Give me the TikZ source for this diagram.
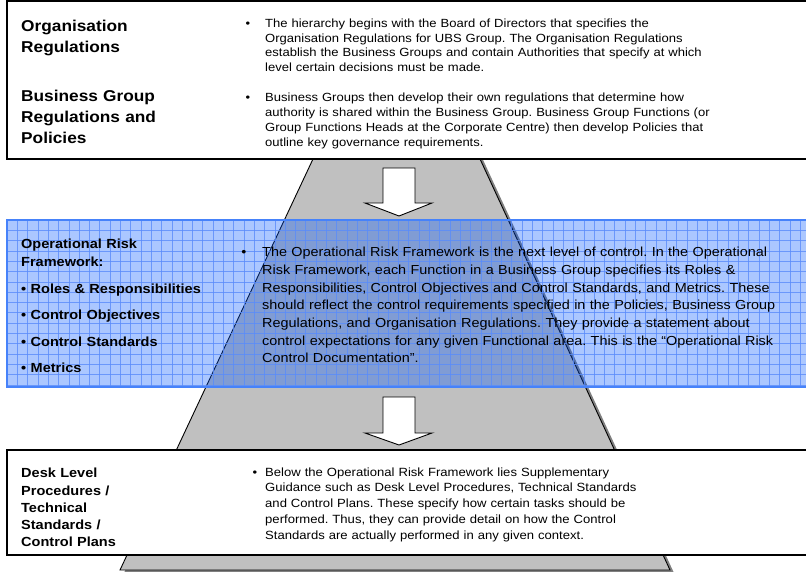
\documentclass[tikz,border=0pt]{standalone}
\usepackage{fontspec}
\setmainfont[FakeStretch=1.1]{Liberation Sans}
\setlength{\parindent}{0pt}
\frenchspacing
\definecolor{pyrfill}{RGB}{192,192,192}
\definecolor{pyrshade}{RGB}{128,128,128}
\definecolor{orfblue}{RGB}{0,85,255}
\definecolor{orfedge}{RGB}{70,130,250}
\definecolor{orfgrid}{RGB}{90,140,250}
\begin{document}
\begin{tikzpicture}[x=1pt,y=-1pt,
  panel/.style={draw=black, line width=1.2pt, fill=white},
  orfpanel/.style={fill=orfblue, fill opacity=0.33},
  gridline/.style={draw=orfgrid, line width=0.6pt, opacity=0.8},
  heading/.style={anchor=base west, inner sep=0pt, text width=220pt, align=left},
  body/.style={anchor=base west, inner sep=0pt, text width=#1, align=left},
  dot/.style={anchor=base, inner sep=0pt},
  blockarrow/.style={draw=black, line width=0.9pt, fill=white, line join=miter},
]
\useasboundingbox (0,0) rectangle (806,571);

% pyramid with its drop shadow
\coordinate (pyrTL) at (388.6,-2);
\coordinate (pyrTR) at (405.6,-2);
\coordinate (pyrBR) at (670,570);
\coordinate (pyrBL) at (120,570);
\fill[pyrshade] ([shift={(4,3)}]pyrTL) -- ([shift={(4,3)}]pyrTR)
  -- ([shift={(4,3)}]pyrBR) -- ([shift={(4,3)}]pyrBL) -- cycle;
\draw[fill=pyrfill, line width=0.9pt] (pyrTL) -- (pyrTR) -- (pyrBR) -- (pyrBL) -- cycle;

% upper panel: regulations and policies
\draw[panel] (7,1) rectangle (812,159);
% lower panel: supplementary guidance
\draw[panel] (7,450) rectangle (812,555);

% middle panel: operational risk framework (translucent, gridded)
\fill[orfpanel] (7,220) rectangle (812,387);
\begin{scope}
  \clip (7,220) rectangle (812,387);
  \foreach \i in {0,...,78}
    \draw[gridline] (7+\i*10.3,220) -- ++(0,167);
  \foreach \j in {0,...,16}
    \draw[gridline] (7,220+\j*10.3) -- ++(805,0);
\end{scope}
\draw[draw=orfedge, line width=2pt] (7,220) rectangle (812,387);

% block arrows between the levels
\draw[blockarrow] (383,168) -- (415,168) -- (415,203) -- (432,203) -- (399,216)
  -- (365,203) -- (383,203) -- cycle;
\draw[blockarrow] (383,397) -- (415,397) -- (415,433) -- (432,433) -- (399,445)
  -- (365,433) -- (383,433) -- cycle;

% upper panel text
\node[heading, font=\fontsize{15.7}{21}\selectfont\bfseries] (orgHead) at (21,31.7)
  {Organisation\\Regulations};
\node[heading, font=\fontsize{15.7}{21}\selectfont\bfseries] (bgHead) at (21,101)
  {Business Group\\Regulations and\\Policies};
\node[dot, font=\fontsize{11.8}{14.8}\selectfont] (orgDot) at (248,27.3) {•};
\node[body=520pt, font=\fontsize{11.85}{14.8}\selectfont] (orgText) at (265,27.3)
  {The hierarchy begins with the Board of Directors that specifies the\\
   Organisation Regulations for UBS Group. The Organisation Regulations\\
   establish the Business Groups and contain Authorities that specify at which\\
   level certain decisions must be made.};
\node[dot, font=\fontsize{11.8}{14.8}\selectfont] (bgDot) at (248,101.7) {•};
\node[body=520pt, font=\fontsize{11.85}{14.8}\selectfont] (bgText) at (265,101.7)
  {Business Groups then develop their own regulations that determine how\\
   authority is shared within the Business Group. Business Group Functions (or\\
   Group Functions Heads at the Corporate Centre) then develop Policies that\\
   outline key governance requirements.};

% middle panel text
\node[heading, font=\fontsize{13.2}{18}\selectfont\bfseries] (orfHead) at (21,248)
  {Operational Risk\\Framework:};
\node[heading, font=\fontsize{13.2}{18}\selectfont\bfseries] (orfRoles) at (21,293)
  {• Roles \& Responsibilities};
\node[heading, font=\fontsize{13.2}{18}\selectfont\bfseries] (orfObj) at (21,319.5)
  {• Control Objectives};
\node[heading, font=\fontsize{13.2}{18}\selectfont\bfseries] (orfStd) at (21,346)
  {• Control Standards};
\node[heading, font=\fontsize{13.2}{18}\selectfont\bfseries] (orfMet) at (21,372)
  {• Metrics};
\node[dot, font=\fontsize{13.1}{17.7}\selectfont] (orfDot) at (244,256.7) {•};
\node[body=560pt, font=\fontsize{13.1}{17.7}\selectfont] (orfText) at (262,256.7)
  {The Operational Risk Framework is the next level of control. In the Operational\\
   Risk Framework, each Function in a Business Group specifies its Roles \&\\
   Responsibilities, Control Objectives and Control Standards, and Metrics. These\\
   should reflect the control requirements specified in the Policies, Business Group\\
   Regulations, and Organisation Regulations. They provide a statement about\\
   control expectations for any given Functional area. This is the “Operational Risk\\
   Control Documentation”.};

% lower panel text
\node[heading, font=\fontsize{13.2}{17.3}\selectfont\bfseries] (deskHead) at (21,477.7)
  {Desk Level\\Procedures /\\Technical\\Standards /\\Control Plans};
\node[dot, font=\fontsize{11.9}{15.8}\selectfont] (deskDot) at (255,476) {•};
\node[body=480pt, font=\fontsize{11.9}{15.8}\selectfont] (deskText) at (265,476)
  {Below the Operational Risk Framework lies Supplementary\\
   Guidance such as Desk Level Procedures, Technical Standards\\
   and Control Plans. These specify how certain tasks should be\\
   performed. Thus, they can provide detail on how the Control\\
   Standards are actually performed in any given context.};
\end{tikzpicture}
\end{document}
